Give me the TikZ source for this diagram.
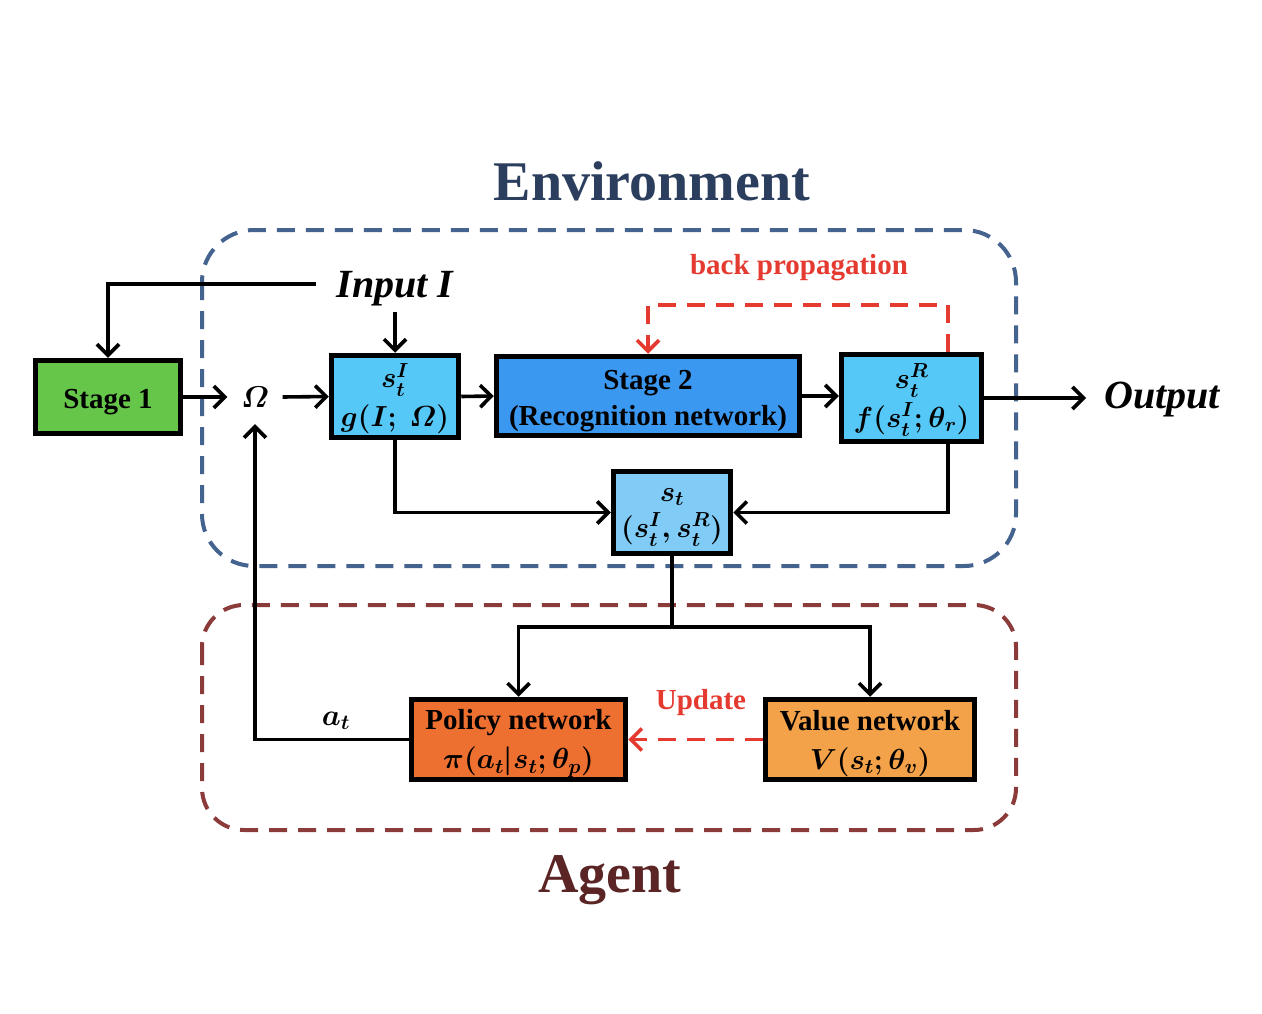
\RequirePackage{fix-cm}
\documentclass[tikz,border=0pt]{standalone}
\usepackage{amsmath}
\usepackage{fontspec}
\setmainfont{Liberation Serif}
\usetikzlibrary{arrows.meta}
\definecolor{envblue}{HTML}{44638F}
\definecolor{envtitle}{HTML}{2C3E5E}
\definecolor{agentred}{HTML}{8C3B3B}
\definecolor{agenttitle}{HTML}{5B2525}
\definecolor{bpred}{HTML}{E53A30}
\definecolor{greenbox}{HTML}{66C64A}
\definecolor{cyanbox}{HTML}{56C8F7}
\definecolor{bluebox}{HTML}{3A98F0}
\definecolor{lightbox}{HTML}{80CCF7}
\definecolor{orangebox}{HTML}{EE7030}
\definecolor{lightorange}{HTML}{F4A24A}
\begin{document}
\begin{tikzpicture}[x=1pt,y=-1pt,
  box/.style={draw=black,line width=5.5pt,inner sep=0pt},
  btext/.style={align=center,inner sep=0pt,
    font=\fontsize{29}{36}\selectfont\bfseries\boldmath},
  conn/.style={line width=3.6pt,-{Straight Barb[length=11pt,width=22pt,line width=3.6pt]}},
  plain/.style={line width=3.6pt},
  reddash/.style={draw=bpred,line width=3.6pt,dash pattern=on 18pt off 11pt},
  envbox/.style={draw=envblue,line width=4pt,dash pattern=on 18pt off 11pt,rounded corners=52pt},
  agentbox/.style={draw=agentred,line width=4pt,dash pattern=on 18pt off 11pt,rounded corners=42pt},
  lbl/.style={font=\fontsize{29}{35}\selectfont\bfseries}
]
\useasboundingbox[fill=white] (0,0) rectangle (1262,1014);

% containers
\draw[envbox] (202,230) rectangle (1016,566);
\draw[agentbox] (202,605) rectangle (1016,830);
\node[text=envtitle,font=\fontsize{56}{60}\selectfont\bfseries] (envtitle) at (652,181) {Environment};
\node[text=agenttitle,font=\fontsize{56}{60}\selectfont\bfseries] (agenttitle) at (610,880) {Agent};

% boxes
\node[box,fill=greenbox,minimum width=145pt,minimum height=73pt] (stage1) at (108,397) {};
\node[btext] (stage1t) at ([yshift=-5pt]stage1.center) {Stage 1};
\node[box,fill=cyanbox,minimum width=127pt,minimum height=82pt] (sI) at (395,396.5) {};
\node[btext] (sIt) at ([yshift=-2pt]sI.center) {$s_t^I$\\[3pt]$g(I;\ \varOmega)$};
\node[box,fill=bluebox,minimum width=303pt,minimum height=79pt] (stage2) at (648,396) {};
\node[btext] (stage2t) at ([yshift=-5pt]stage2.center) {Stage 2\\(Recognition network)};
\node[box,fill=cyanbox,minimum width=140pt,minimum height=87pt] (sR) at (911.5,398) {};
\node[btext] (sRt) at ([yshift=-2pt]sR.center) {$s_t^R$\\[3pt]$f(s_t^I;\theta_r)$};
\node[box,fill=lightbox,minimum width=117pt,minimum height=82pt] (st) at (672,512.5) {};
\node[btext] (stt) at ([yshift=-5pt]st.center) {$s_t$\\[0pt]$(s_t^I,s_t^R)$};
\node[box,fill=orangebox,minimum width=214pt,minimum height=80pt] (policy) at (518.5,739.5) {};
\node[btext] (policyt) at ([yshift=-4pt]policy.center) {Policy network\\[3pt]$\pi(a_t|s_t;\theta_p)$};
\node[box,fill=lightorange,minimum width=209pt,minimum height=80pt] (value) at (870,739.5) {};
\node[btext] (valuet) at ([yshift=-4pt]value.center) {Value network\\[3pt]$V(s_t;\theta_v)$};

% free labels
\node[font=\fontsize{30}{34}\selectfont\boldmath,inner sep=0pt,minimum width=55pt,minimum height=54pt] (omega) at (255,397) {$\varOmega$};
\node[font=\fontsize{40}{44}\selectfont\bfseries\itshape,inner xsep=20pt,inner ysep=0pt,text height=41pt,text depth=15pt] (input) at (395,284) {Input I};
\node[font=\fontsize{40}{44}\selectfont\bfseries\itshape,inner xsep=18pt,inner ysep=0pt,text height=36pt,text depth=14pt] (output) at (1162,397) {Output};
\node[lbl,text=bpred] (bplabel) at (799,268) {back propagation};
\node[lbl,text=bpred] (uplabel) at (701,703) {Update};
\node[font=\fontsize{30}{34}\selectfont\boldmath] (atlabel) at (336,721) {$a_t$};

% connectors
\draw[conn] (input.west) -| (stage1.north);
\draw[conn] (input.south) -- (sI.north);
\draw[conn] (stage1.east) -- (omega.west);
\draw[conn] (omega.east) -- (sI.west);
\draw[conn] (sI.east) -- (stage2.west);
\draw[conn] (stage2.east) -- (stage2.east -| sR.west);
\draw[conn] (sR.east) -- (sR.east -| output.west);
\draw[conn] (sI.south) |- (st.west);
\draw[conn] ([xshift=36.5pt]sR.south) |- (st.east);
\draw[plain] (st.south) -- ++(0,71) coordinate (split);
\draw[conn] (split) -| (policy.north);
\draw[conn] (split) -| (value.north);
\draw[conn] (policy.west) -| (omega.south);
\draw[reddash,-{Straight Barb[length=11pt,width=22pt,line width=3.6pt]}] ([xshift=36.5pt]sR.north) -- ++(0,-47) -| (stage2.north);
\draw[reddash,-{Straight Barb[length=11pt,width=22pt,line width=3.6pt]}] (value.west) -- (policy.east);
\end{tikzpicture}
\end{document}
